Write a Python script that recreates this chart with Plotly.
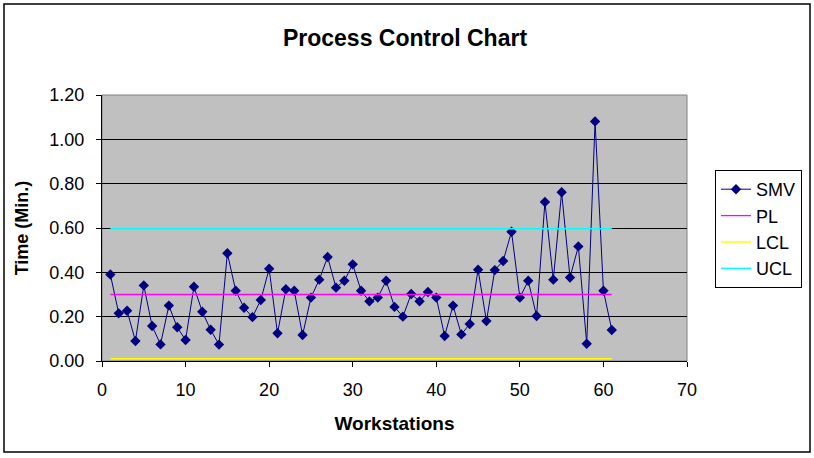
import plotly.graph_objects as go

workstations = list(range(1, 62))
smv = [0.39, 0.215, 0.227, 0.09, 0.341, 0.158, 0.075, 0.25, 0.152, 0.095,
       0.335, 0.222, 0.141, 0.074, 0.486, 0.317, 0.24, 0.198, 0.275, 0.416,
       0.125, 0.324, 0.317, 0.117, 0.286, 0.367, 0.469, 0.331, 0.362, 0.436,
       0.317, 0.269, 0.286, 0.362, 0.244, 0.2, 0.302, 0.269, 0.311, 0.286,
       0.113, 0.25, 0.12, 0.167, 0.412, 0.18, 0.41, 0.451, 0.583, 0.286,
       0.362, 0.203, 0.717, 0.367, 0.761, 0.377, 0.517, 0.078, 1.081, 0.317,
       0.14]
pl_value = 0.30
lcl_value = 0.01
ucl_value = 0.597

pl = [pl_value] * len(workstations)
lcl = [lcl_value] * len(workstations)
ucl = [ucl_value] * len(workstations)

font = "Liberation Sans, Arial, sans-serif"

fig = go.Figure()
fig.add_trace(go.Scatter(x=workstations, y=smv, name="SMV", mode="lines+markers",
                         line=dict(color="#000080", width=1),
                         marker=dict(symbol="diamond", size=8, color="#000080")))
fig.add_trace(go.Scatter(x=workstations, y=pl, name="PL", mode="lines",
                         line=dict(color="#FF00FF", width=1.3)))
fig.add_trace(go.Scatter(x=workstations, y=lcl, name="LCL", mode="lines",
                         line=dict(color="#FFFF00", width=1.5)))
fig.add_trace(go.Scatter(x=workstations, y=ucl, name="UCL", mode="lines",
                         line=dict(color="#00FFFF", width=1.5)))

L, R, T, B = 102, 687, 95, 361
W, H = 814, 458
pw, ph = R - L, B - T

def px(x):
    return (x - L) / pw

def py(y):
    return (B - y) / ph

fig.update_layout(
    width=W, height=H,
    margin=dict(l=L, r=W - R, t=T, b=H - B),
    paper_bgcolor="white",
    plot_bgcolor="#C0C0C0",
    font=dict(family=font, size=18, color="black"),
    title=dict(text="<b>Process Control Chart</b>", xref="container", x=405 / W,
               xanchor="center", yref="container", y=1 - 38 / H, yanchor="middle",
               font=dict(size=23, family=font)),
    showlegend=True,
    legend=dict(x=px(715), y=py(170), xanchor="left", yanchor="top",
                bordercolor="black", borderwidth=1, bgcolor="white",
                font=dict(size=18, family=font), tracegroupgap=0,
                itemwidth=30),
    xaxis=dict(range=[0, 70], dtick=10, tick0=0, showgrid=False, zeroline=False,
               showline=True, linecolor="black", linewidth=1,
               ticks="outside", ticklen=5, tickcolor="black", ticklabelstandoff=7,
               title=dict(text="<b>Workstations</b>", font=dict(size=19), standoff=18)),
    yaxis=dict(range=[0, 1.2], dtick=0.2, tick0=0, tickformat=".2f",
               showgrid=True, gridcolor="black", gridwidth=1, zeroline=False,
               showline=True, linecolor="black", linewidth=1,
               ticks="outside", ticklen=5, tickcolor="black", ticklabelstandoff=8,
               title=dict(text="<b>Time (Min.)</b>", font=dict(size=18), standoff=16)),
    shapes=[
        dict(type="rect", xref="paper", yref="paper", x0=0, x1=1, y0=0, y1=1,
             line=dict(color="#808080", width=1), layer="below"),
        dict(type="rect", xref="paper", yref="paper",
             x0=px(4), x1=px(810), y0=py(452), y1=py(4),
             line=dict(color="black", width=1.5)),
    ],
)

fig.write_html("out.html")
